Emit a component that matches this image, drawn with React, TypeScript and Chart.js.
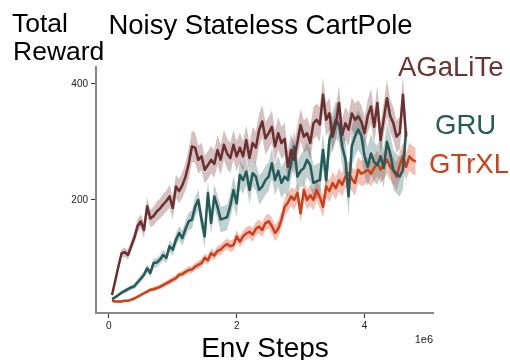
import React, { useEffect, useRef } from "react";
import { Chart, registerables } from "chart.js";

Chart.register(...registerables);

// Env steps (in units of 1e6)
const STEPS = [
  0.05, 0.1, 0.15, 0.2, 0.25, 0.3, 0.35, 0.4, 0.45, 0.5,
  0.55, 0.6, 0.65, 0.7, 0.75, 0.8, 0.85, 0.9, 0.95, 1.0,
  1.05, 1.1, 1.15, 1.2, 1.25, 1.3, 1.35, 1.4, 1.45, 1.5,
  1.55, 1.6, 1.65, 1.7, 1.75, 1.8, 1.85, 1.9, 1.95, 2.0,
  2.05, 2.1, 2.15, 2.2, 2.25, 2.3, 2.35, 2.4, 2.45, 2.5,
  2.55, 2.6, 2.65, 2.7, 2.75, 2.8, 2.85, 2.9, 2.95, 3.0,
  3.05, 3.1, 3.15, 3.2, 3.25, 3.3, 3.35, 3.4, 3.45, 3.5,
  3.55, 3.6, 3.65, 3.7, 3.75, 3.8, 3.85, 3.9, 3.95, 4.0,
  4.05, 4.1, 4.15, 4.2, 4.25, 4.3, 4.35, 4.4, 4.45, 4.5,
  4.55, 4.6, 4.65, 4.7, 4.75, 4.8,
];

const AGALITE_MEAN = [
  36, 60, 85, 108, 110, 105, 120, 135, 155, 163,
  148, 189, 168, 172, 180, 185, 192, 198, 206, 186,
  223, 215, 225, 240, 262, 292, 290, 269, 275, 252,
  260, 269, 262, 286, 269, 295, 280, 272, 295, 275,
  290, 275, 303, 272, 298, 290, 320, 335, 306, 315,
  326, 292, 315, 298, 305, 257, 286, 269, 300, 329,
  309, 315, 298, 332, 338, 330, 381, 338, 349, 309,
  330, 367, 312, 332, 321, 349, 338, 344, 335, 315,
  345, 361, 326, 367, 303, 340, 375, 345, 332, 309,
  315, 381, 309,
];
const AGALITE_ERR = [
  4, 5, 6, 7, 8, 8, 9, 10, 12, 12,
  14, 15, 15, 16, 17, 17, 18, 18, 20, 20,
  20, 21, 22, 24, 26, 27, 26, 24, 24, 24,
  24, 24, 24, 26, 26, 26, 26, 26, 26, 26,
  26, 26, 26, 26, 28, 28, 28, 28, 28, 28,
  28, 28, 28, 28, 28, 28, 28, 28, 28, 28,
  28, 28, 28, 28, 28, 30, 30, 28, 28, 28,
  28, 30, 28, 28, 28, 28, 28, 28, 28, 28,
  28, 30, 28, 30, 28, 28, 32, 28, 28, 28,
  28, 32, 30,
];

const GRU_MEAN = [
  29, 32, 36, 40, 43, 46, 49, 51, 58, 64,
  71, 82, 74, 91, 92, 97, 105, 100, 120, 114,
  131, 143, 134, 150, 163, 166, 188, 200, 166, 137,
  212, 160, 206, 188, 166, 168, 170, 190, 217, 194,
  243, 234, 249, 217, 246, 240, 217, 223, 234, 240,
  263, 234, 250, 229, 240, 234, 263, 292, 240, 250,
  255, 269, 260, 229, 232, 234, 286, 234, 303, 320,
  338, 330, 292, 270, 206, 292, 309, 321, 310, 275,
  257, 280, 265, 260, 275, 255, 300, 280, 252, 245,
  240, 252, 318,
];
const GRU_ERR = [
  2, 3, 3, 3, 4, 4, 4, 5, 5, 6,
  6, 7, 7, 8, 8, 8, 9, 9, 10, 10,
  11, 12, 13, 14, 15, 16, 17, 18, 19, 20,
  20, 20, 20, 21, 22, 22, 22, 22, 24, 24,
  24, 24, 24, 24, 24, 24, 25, 25, 25, 25,
  26, 26, 27, 27, 28, 28, 28, 28, 28, 28,
  30, 30, 30, 30, 30, 30, 30, 30, 32, 32,
  32, 32, 32, 34, 34, 34, 34, 34, 34, 34,
  34, 34, 34, 34, 34, 34, 34, 34, 34, 34,
  34, 34, 36,
];

const GTRXL_MEAN = [
  26, 25, 25, 25, 26, 26, 28, 30, 33, 36,
  39, 42, 45, 46, 48, 50, 53, 56, 59, 62,
  65, 71, 72, 76, 79, 80, 85, 88, 91, 100,
  96, 108, 104, 112, 114, 120, 124, 120, 122, 137,
  128, 137, 142, 145, 140, 150, 154, 148, 160, 163,
  155, 143, 150, 166, 188, 195, 206, 200, 212, 177,
  217, 200, 208, 200, 217, 205, 188, 223, 215, 229,
  220, 234, 226, 240, 246, 236, 229, 252, 245, 248,
  252, 245, 255, 263, 252, 260, 269, 258, 250, 240,
  260, 275, 257, 275, 269, 266,
];
const GTRXL_ERR = [
  2, 2, 2, 2, 2, 2, 2, 3, 3, 3,
  3, 3, 3, 4, 4, 4, 4, 4, 5, 5,
  5, 5, 5, 6, 6, 6, 6, 7, 7, 7,
  8, 8, 8, 8, 9, 9, 9, 10, 10, 10,
  10, 10, 11, 11, 12, 12, 12, 12, 13, 13,
  14, 14, 14, 15, 16, 16, 16, 17, 17, 17,
  17, 17, 18, 18, 18, 19, 19, 19, 19, 19,
  20, 20, 20, 20, 21, 21, 22, 22, 22, 22,
  22, 22, 22, 22, 23, 24, 24, 24, 24, 24,
  24, 24, 24, 24, 24, 24,
];

const X_TICKS = [0, 2, 4];
const Y_TICKS = [200, 400];

const FONT = "'Liberation Sans', Arial, Helvetica, sans-serif";

const SERIES = [
  { name: "GTrXL", mean: GTRXL_MEAN, err: GTRXL_ERR, color: "#cf3f18", fill: "rgba(222,90,60,0.38)", order: 3 },
  { name: "GRU", mean: GRU_MEAN, err: GRU_ERR, color: "#245b59", fill: "rgba(60,110,110,0.32)", order: 2 },
  { name: "AGaLiTe", mean: AGALITE_MEAN, err: AGALITE_ERR, color: "#6b2f2f", fill: "rgba(120,60,60,0.32)", order: 1 },
];

const textPlugin = {
  id: "texts",
  afterDraw(chart: any) {
    const ctx = chart.ctx;
    ctx.save();
    ctx.textBaseline = "alphabetic";
    ctx.fillStyle = "#000";
    ctx.font = `27.5px ${FONT}`;
    ctx.textAlign = "center";
    ctx.fillText("Noisy Stateless CartPole", 260.5, 34);
    ctx.font = `26.5px ${FONT}`;
    ctx.textAlign = "left";
    ctx.fillText("Total", 12, 32);
    ctx.fillText("Reward", 13, 60);
    ctx.font = `28px ${FONT}`;
    ctx.textAlign = "center";
    ctx.fillText("Env Steps", 265, 357);
    ctx.font = `11px ${FONT}`;
    ctx.textAlign = "right";
    ctx.fillStyle = "#222";
    ctx.fillText("1e6", 433, 343);
    ctx.font = `27.5px ${FONT}`;
    ctx.textAlign = "left";
    ctx.fillStyle = "#6b3232";
    ctx.fillText("AGaLiTe", 398, 76);
    ctx.fillStyle = "#245b59";
    ctx.fillText("GRU", 435, 134);
    ctx.fillStyle = "#cf3f18";
    ctx.fillText("GTrXL", 429, 173);
    ctx.restore();
  },
};

export default function App() {
  const ref = useRef<HTMLCanvasElement | null>(null);
  useEffect(() => {
    if (!ref.current) return;
    const datasets: any[] = [];
    SERIES.forEach((s) => {
      const lowIdx = datasets.length;
      datasets.push({
        data: s.mean.map((v, i) => ({ x: STEPS[i], y: v - s.err[i] })),
        borderWidth: 0,
        pointRadius: 0,
        fill: false,
        order: s.order + 10,
        borderColor: "rgba(0,0,0,0)",
      });
      datasets.push({
        data: s.mean.map((v, i) => ({ x: STEPS[i], y: v + s.err[i] })),
        borderWidth: 0,
        pointRadius: 0,
        fill: { target: lowIdx },
        backgroundColor: s.fill,
        order: s.order + 10,
        borderColor: "rgba(0,0,0,0)",
      });
      datasets.push({
        data: s.mean.map((v, i) => ({ x: STEPS[i], y: v })),
        borderWidth: 2.5,
        borderColor: s.color,
        pointRadius: 0,
        fill: false,
        tension: 0,
        order: s.order,
        borderJoinStyle: "round",
      });
    });
    const chart = new Chart(ref.current, {
      type: "line",
      data: { datasets },
      options: {
        animation: false,
        responsive: false,
        maintainAspectRatio: false,
        layout: { padding: { top: 67, right: 77, left: 0, bottom: 0 } },
        plugins: { legend: { display: false }, tooltip: { enabled: false }, title: { display: false } },
        scales: {
          x: {
            type: "linear",
            min: -0.2,
            max: 5.07,
            afterBuildTicks: (s: any) => {
              s.ticks = X_TICKS.map((v) => ({ value: v }));
            },
            afterFit: (s: any) => {
              s.height = 47;
            },
            ticks: { font: { size: 10, family: FONT }, color: "#222", padding: 2, callback: (v: any) => String(v) },
            grid: { drawOnChartArea: false, drawTicks: true, tickLength: 5, color: "#333", tickWidth: 1 },
            border: { display: true, color: "#888", width: 2 },
          },
          y: {
            type: "linear",
            min: 5,
            max: 429,
            afterBuildTicks: (s: any) => {
              s.ticks = Y_TICKS.map((v) => ({ value: v }));
            },
            afterFit: (s: any) => {
              s.width = 96;
            },
            ticks: { font: { size: 10, family: FONT }, color: "#222", padding: 3, callback: (v: any) => String(v) },
            grid: { drawOnChartArea: false, drawTicks: true, tickLength: 5, color: "#333", tickWidth: 1 },
            border: { display: true, color: "#888", width: 2 },
          },
        },
      } as any,
      plugins: [textPlugin],
    });
    return () => chart.destroy();
  }, []);
  return (
    <div style={{ position: "absolute", left: 0, top: 0, width: 510, height: 360, background: "#fff" }}>
      <canvas ref={ref} width={510} height={360} style={{ width: 510, height: 360, display: "block" }} />
    </div>
  );
}
